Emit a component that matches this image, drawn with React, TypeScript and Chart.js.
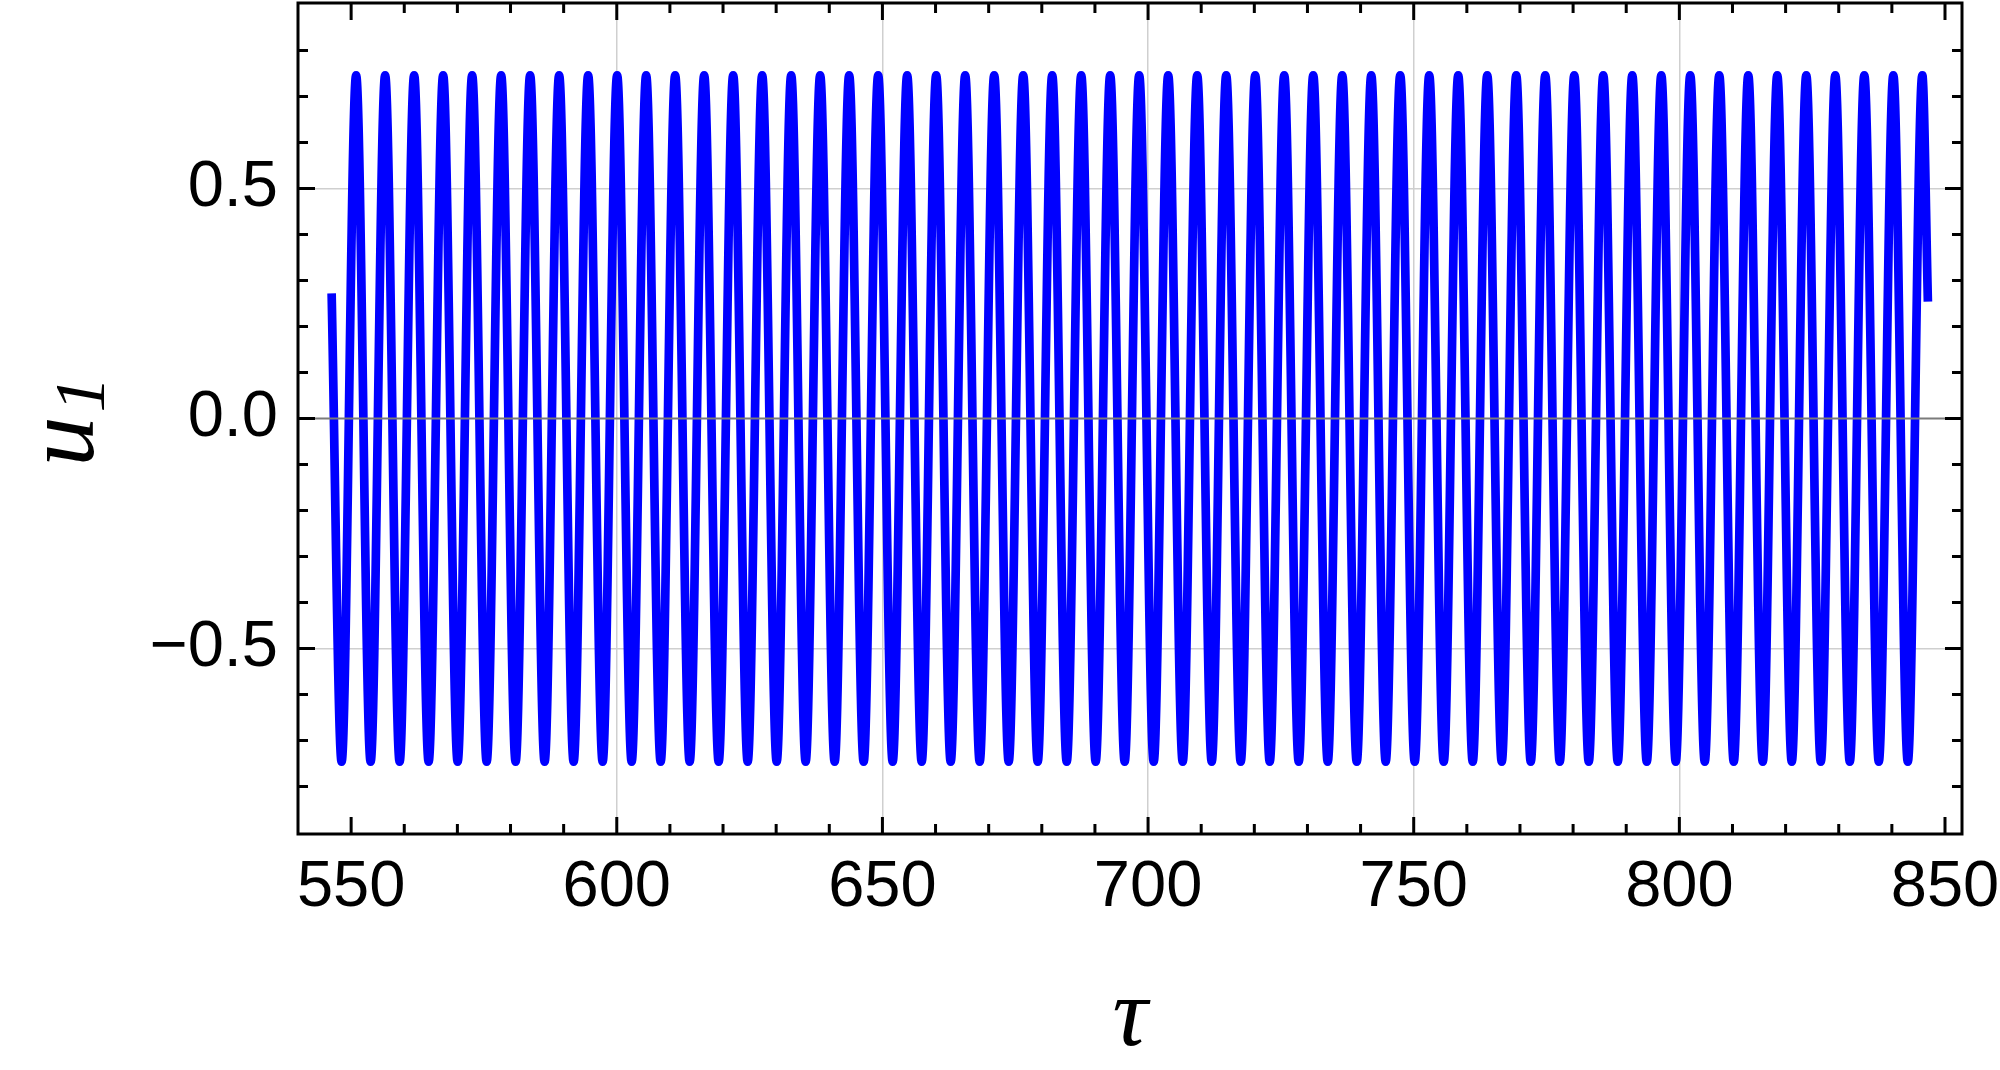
import React, { useEffect, useRef } from "react";
import { Chart, registerables } from "chart.js";

Chart.register(...registerables);

// ---- data ----
const startPoint = { tau: 546.33, u: 0.272 };
const endPoint = { tau: 846.78, u: 0.254 };
const peakU = 0.746;
const troughU = -0.746;

const troughTau = [
  548.21, 553.67, 559.13, 564.59, 570.05, 575.51, 580.96, 586.42, 591.88, 597.34,
  602.8, 608.26, 613.72, 619.18, 624.64, 630.1, 635.55, 641.01, 646.47, 651.93,
  657.39, 662.85, 668.31, 673.77, 679.23, 684.69, 690.14, 695.6, 701.06, 706.52,
  711.98, 717.44, 722.9, 728.36, 733.82, 739.28, 744.73, 750.19, 755.65, 761.11,
  766.57, 772.03, 777.49, 782.95, 788.41, 793.87, 799.32, 804.78, 810.24, 815.7,
  821.16, 826.62, 832.08, 837.54, 843.0,
];

const peakTau = [
  550.94, 556.4, 561.86, 567.32, 572.78, 578.24, 583.69, 589.15, 594.61, 600.07,
  605.53, 610.99, 616.45, 621.91, 627.37, 632.83, 638.28, 643.74, 649.2, 654.66,
  660.12, 665.58, 671.04, 676.5, 681.96, 687.42, 692.87, 698.33, 703.79, 709.25,
  714.71, 720.17, 725.63, 731.09, 736.55, 742.01, 747.46, 752.92, 758.38, 763.84,
  769.3, 774.76, 780.22, 785.68, 791.14, 796.6, 802.05, 807.51, 812.97, 818.43,
  823.89, 829.35, 834.81, 840.27, 845.73,
];

const xTickValues = [550, 600, 650, 700, 750, 800, 850];
const xTickLabels = ["550", "600", "650", "700", "750", "800", "850"];
const yTickValues = [-0.5, 0, 0.5];
const yTickLabels = ["\u22120.5", "0.0", "0.5"];
const xGridValues = [600, 650, 700, 750, 800];
const yGridValues = [-0.5, 0.5];
const xTitle = "\u03C4";
const yTitleMain = "u";
const yTitleSub = "1";

// ---- build the series for the library ----
const points: { x: number; y: number }[] = [{ x: startPoint.tau, y: startPoint.u }];
for (let i = 0; i < peakTau.length; i++) {
  points.push({ x: troughTau[i], y: troughU });
  points.push({ x: peakTau[i], y: peakU });
}
points.push({ x: endPoint.tau, y: endPoint.u });

const framePlugin = {
  id: "mmaFrame",
  afterDatasetsDraw(chart: any) {
    const { ctx, chartArea: a, scales } = chart;
    const xs = scales.x;
    const ys = scales.y;
    ctx.save();
    // zero axis line (drawn over the curve)
    const y0 = ys.getPixelForValue(0);
    ctx.strokeStyle = "#7b7b7b";
    ctx.lineWidth = 2;
    ctx.beginPath();
    ctx.moveTo(a.left, y0);
    ctx.lineTo(a.right, y0);
    ctx.stroke();

    // frame
    ctx.strokeStyle = "#000";
    ctx.lineWidth = 3;
    ctx.lineCap = "butt";
    ctx.strokeRect(a.left, a.top, a.right - a.left, a.bottom - a.top);

    const major = 17;
    const minor = 10;
    const xTick = (v: number, len: number) => {
      const px = xs.getPixelForValue(v);
      ctx.beginPath();
      ctx.moveTo(px, a.bottom);
      ctx.lineTo(px, a.bottom - len);
      ctx.moveTo(px, a.top);
      ctx.lineTo(px, a.top + len);
      ctx.stroke();
    };
    const yTick = (v: number, len: number) => {
      const py = ys.getPixelForValue(v);
      ctx.beginPath();
      ctx.moveTo(a.left, py);
      ctx.lineTo(a.left + len, py);
      ctx.moveTo(a.right, py);
      ctx.lineTo(a.right - len, py);
      ctx.stroke();
    };
    xTickValues.forEach((v) => xTick(v, major));
    for (let v = 560; v < 850; v += 10) {
      if (v % 50 !== 0) xTick(v, minor);
    }
    yTickValues.forEach((v) => yTick(v, major));
    for (let k = -8; k <= 8; k++) {
      if (k % 5 !== 0) yTick(k / 10, minor);
    }
    ctx.restore();
  },
  afterDraw(chart: any) {
    const { ctx, chartArea: a } = chart;
    ctx.save();
    ctx.fillStyle = "#000";
    // x title
    ctx.font = 'italic 98px "Liberation Serif"';
    ctx.textAlign = "center";
    ctx.textBaseline = "alphabetic";
    ctx.fillText(xTitle, (a.left + a.right) / 2, a.bottom + 211);

    // y title (rotated), with subscript
    const mainFont = 'italic 100px "Liberation Serif"';
    const subFont = 'italic 72px "Liberation Serif"';
    ctx.font = mainFont;
    const wMain = ctx.measureText(yTitleMain).width;
    ctx.font = subFont;
    const wSub = ctx.measureText(yTitleSub).width;
    const gap = 4;
    const total = wMain + gap + wSub;
    const cy = (a.top + a.bottom) / 2 + 3;
    const baseX = a.left - 205;
    ctx.translate(baseX, cy + total / 2);
    ctx.rotate(-Math.PI / 2);
    ctx.textAlign = "left";
    ctx.font = mainFont;
    ctx.fillText(yTitleMain, 0, 0);
    ctx.font = subFont;
    ctx.fillText(yTitleSub, wMain + gap, 11);
    ctx.restore();
  },
};

export default function App() {
  const ref = useRef<HTMLCanvasElement>(null);
  useEffect(() => {
    if (!ref.current) return;
    const chart = new Chart(ref.current, {
      type: "line",
      data: {
        datasets: [
          {
            data: points,
            borderColor: "#0000ff",
            backgroundColor: "#0000ff",
            borderWidth: 8.7,
            borderCapStyle: "butt",
            borderJoinStyle: "round",
            pointRadius: 0,
            pointHoverRadius: 0,
            fill: false,
            cubicInterpolationMode: "monotone",
          },
        ],
      },
      options: {
        responsive: false,
        animation: false,
        events: [],
        layout: { padding: { left: 0, top: 3, right: 38, bottom: 0 } },
        plugins: { legend: { display: false }, tooltip: { enabled: false } },
        scales: {
          x: {
            type: "linear",
            min: 540,
            max: 853.2,
            afterBuildTicks: (s: any) => {
              s.ticks = xTickValues.map((v) => ({ value: v }));
            },
            afterFit: (s: any) => {
              s.height = 236;
              s.paddingLeft = 0;
              s.paddingRight = 0;
            },
            grid: {
              color: (c: any) =>
                c.tick && xGridValues.includes(c.tick.value) ? "#cfcfcf" : "rgba(0,0,0,0)",
              lineWidth: 1.5,
              drawTicks: false,
            },
            border: { display: false },
            ticks: {
              padding: 15,
              color: "#000",
              autoSkip: false,
              maxRotation: 0,
              font: { family: "Liberation Sans", size: 65 },
              callback: (v: any) => {
                const i = xTickValues.indexOf(Number(v));
                return i >= 0 ? xTickLabels[i] : "";
              },
            },
          },
          y: {
            type: "linear",
            min: -0.903,
            max: 0.903,
            afterBuildTicks: (s: any) => {
              s.ticks = yTickValues.map((v) => ({ value: v }));
            },
            afterFit: (s: any) => {
              s.width = 298;
              s.paddingTop = 0;
              s.paddingBottom = 0;
            },
            grid: {
              color: (c: any) =>
                c.tick && yGridValues.includes(c.tick.value) ? "#cfcfcf" : "rgba(0,0,0,0)",
              lineWidth: 1.5,
              drawTicks: false,
            },
            border: { display: false },
            ticks: {
              padding: 20,
              color: "#000",
              autoSkip: false,
              font: { family: "Liberation Sans", size: 65 },
              callback: (v: any) => {
                const i = yTickValues.indexOf(Number(v));
                return i >= 0 ? yTickLabels[i] : "";
              },
            },
          },
        },
      },
      plugins: [framePlugin],
    } as any);
    return () => chart.destroy();
  }, []);

  return (
    <div style={{ position: "absolute", left: 0, top: 0, width: 2000, height: 1070, background: "#fff" }}>
      <canvas ref={ref} width={2000} height={1070} style={{ display: "block", width: 2000, height: 1070 }} />
    </div>
  );
}
